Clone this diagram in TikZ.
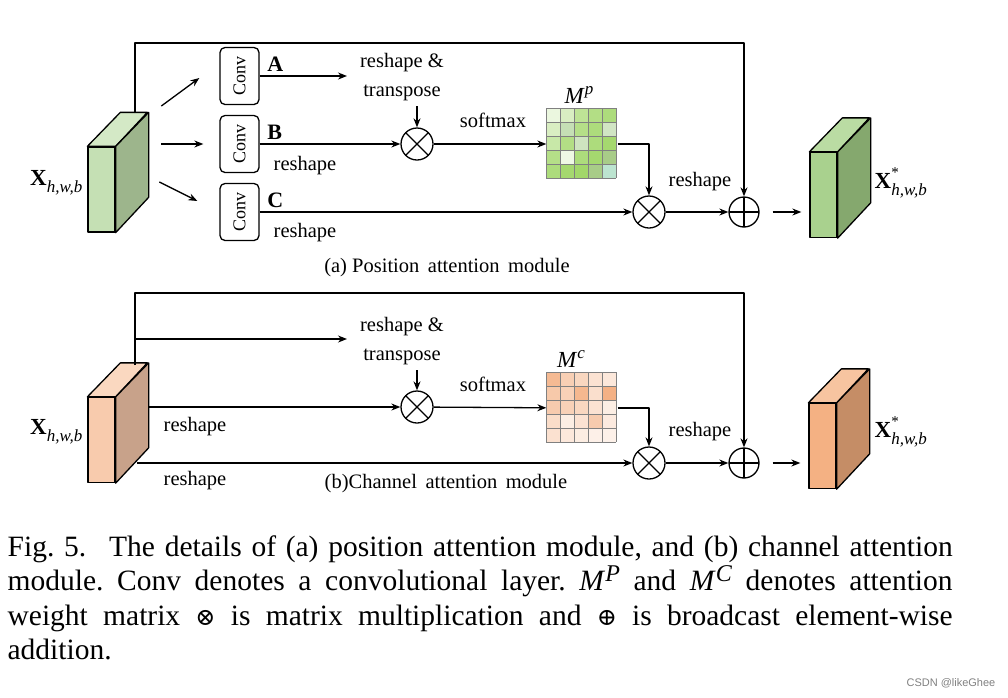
\documentclass[tikz,border=0pt]{standalone}
\usepackage{fontspec}
\setmainfont{Liberation Serif}
\newfontfamily\wmfont{Liberation Sans}
\newfontfamily\opfont{DejaVu Serif}
\usetikzlibrary{arrows.meta,calc}

\definecolor{ga1}{RGB}{197,224,180}
\definecolor{ga2}{RGB}{212,233,198}
\definecolor{ga3}{RGB}{157,181,140}
\definecolor{gb1}{RGB}{169,209,142}
\definecolor{gb2}{RGB}{186,220,163}
\definecolor{gb3}{RGB}{133,168,110}
\definecolor{oa1}{RGB}{248,203,173}
\definecolor{oa2}{RGB}{250,216,192}
\definecolor{oa3}{RGB}{200,162,138}
\definecolor{ob1}{RGB}{244,177,131}
\definecolor{ob2}{RGB}{247,196,160}
\definecolor{ob3}{RGB}{197,141,102}
\definecolor{gm}{RGB}{146,208,80}
\definecolor{gs}{RGB}{197,223,181}
\definecolor{gg}{RGB}{168,204,136}
\definecolor{mint}{RGB}{188,228,208}
\definecolor{om}{RGB}{238,140,75}

\newcommand\lblfont{\fontsize{20.5}{29}\selectfont}
\newcommand\subfont{\fontsize{17}{17}\selectfont}
\newcommand\xin{\fontsize{23}{23}\selectfont\textbf{X}\raisebox{-0.3em}{\subfont\textit{h,w,b}}}
\newcommand\xout{\fontsize{23}{23}\selectfont\textbf{X}\rlap{\raisebox{0.5em}{\fontsize{15}{15}\selectfont *}}\raisebox{-0.3em}{\subfont\textit{h,w,b}}}
\newcommand\opsym[1]{{\opfont\fontsize{24}{24}\selectfont #1}}

\tikzset{%
        conv box/.style={
            draw,
            rounded corners=5pt,
            minimum width=39pt,
            minimum height=57pt,
            inner sep=0pt,
            font=\fontsize{18}{18}\selectfont
        },
        op node/.style={
            draw,
            circle,
            minimum size=32pt,
            inner sep=0pt
        },
        mul node/.style={
            op node,
            path picture={\draw (path picture bounding box.north west) -- (path picture bounding box.south east)
                (path picture bounding box.south west) -- (path picture bounding box.north east);}
        },
        add node/.style={
            op node,
            minimum size=30pt,
            path picture={\draw (path picture bounding box.north) -- (path picture bounding box.south)
                (path picture bounding box.west) -- (path picture bounding box.east);}
        },
        cube front/.style={
            draw,
            minimum width=27pt,
            minimum height=85pt,
            inner sep=0pt
        },
        lbl/.style={
            font=\lblfont,
            inner sep=0pt,
            align=center
        },
        att matrix/.style={
            minimum size=70pt,
            inner sep=0pt
        },
    }

\begin{document}
\begin{tikzpicture}[x=1pt, y=-1pt, line width=1.3pt, line join=round, >={Stealth[length=9pt,width=7pt]}]
        \useasboundingbox (0,0) rectangle (1008,697);

        \foreach \n/\x/\y/\cf/\ct/\cs in {xa/101.5/189.5/ga1/ga2/ga3, ya/823.5/195/gb1/gb2/gb3, xb/101.5/440/oa1/oa2/oa3, yb/822.5/446/ob1/ob2/ob3}
        {
            \node [cube front, fill=\cf] (\n) at (\x,\y) {};
            \draw [fill=\ct] (\n.north west) -- ++(33,-34) -- ++(27,0) -- (\n.north east) -- cycle;
            \draw [fill=\cs] (\n.north east) -- ++(33,-34) -- ++(0,85) -- (\n.south east) -- cycle;
        }

        \foreach \y/\t in {183/a, 432/b}
        {
            \node [lbl, anchor=east] (xlbl-\t) at (83,\y) {\xin};
            \node [lbl, anchor=west] (ylbl-\t) at (874,\y) {\xout};
        }

        % (a) position attention module
        \foreach \l/\y in {A/76, B/144, C/212}
        \node [conv box] (conv\l) at (239.5,\y) {\rotatebox{90}{Conv}};

        \foreach \l in {A, B, C}
        \node [lbl, font=\fontsize{22}{22}\selectfont\bfseries, anchor=base west] (lbl\l) at ($(conv\l.east)+(7,-5)$) {\l};

        \foreach \l/\ax/\ay/\bx/\by in {A/-58/30/-20/2, B/-58/0/-16/0, C/-60/-30/-22/-11}
        \draw [->] ($(conv\l.west)+(\ax,\ay)$) -- ($(conv\l.west)+(\bx,\by)$);

        \node [mul node] (mula) at (417,144) {};
        \node [mul node] (mulb) at (649,212) {};
        \node [add node] (adda) at (744,212) {};
        \node [att matrix] (mp) at (582,144) {};

        \coordinate (ta) at (347,76);
        \coordinate (skipa) at (135,113);
        \coordinate (topa) at (744,43);

        \node [lbl] (rta) at (402,77) {reshape \&\\transpose};
        \node [lbl] (rsb) at (305,166) {reshape};
        \node [lbl] (rsc) at (305,233) {reshape};
        \node [lbl] (sma) at (493,120) {softmax};
        \node [lbl] (rsd) at (700,182) {reshape};
        \node [lbl, anchor=south] (mpl) at ($(mp.north)+(-3,-4)$) {\fontsize{23}{23}\selectfont\textit{M}\raisebox{0.42em}{\subfont\textit{p}}};
        \node [lbl] (capa) at (447,268) {(a) Position\, attention\, module};

        \draw [->] (convA.east) -- (ta);
        \draw [->] (convB.east) -- (mula);
        \draw [->] (convC.east) -- (mulb);
        \draw [->, shorten <=5pt] (rta.south -| mula) -- (mula);
        \draw [->] (mula) -- (mp);
        \draw [->] (mp.east) -| (mulb);
        \draw [->] (mulb) -- (adda);
        \draw [->] (skipa) |- (topa) -- (adda);
        \draw [->, shorten <=13pt, shorten >=8pt] (adda) -- (adda -| ya.west);

        % (b) channel attention module
        \node [mul node] (mulc) at (417,407) {};
        \node [mul node] (muld) at (649,463) {};
        \node [add node] (addb) at (744,463) {};
        \node [att matrix] (mc) at (582,408) {};

        \coordinate (skipb) at (135,365);
        \coordinate (topb) at (744,293);
        \coordinate (brb) at (135,339);
        \coordinate (tb) at (347,339);
        \coordinate (sb1) at (148,407);
        \coordinate (sb2) at (137,463);

        \node [lbl] (rtb) at (402,341) {reshape \&\\transpose};
        \node [lbl] (rse) at (195,427) {reshape};
        \node [lbl] (rsf) at (195,481) {reshape};
        \node [lbl] (smb) at (493,384) {softmax};
        \node [lbl] (rsg) at (700,432) {reshape};
        \node [lbl, anchor=south] (mcl) at ($(mc.north)+(-11,-4)$) {\fontsize{23}{23}\selectfont\textit{M}\raisebox{0.42em}{\subfont\textit{c}}};
        \node [lbl] (capb) at (446,484) {(b)Channel\, attention\, module};

        \draw [->] (brb) -- (tb);
        \draw [->, shorten <=5pt] (rtb.south -| mulc) -- (mulc);
        \draw [->] (sb1) -- (mulc);
        \draw [->] (mulc) -- (mc);
        \draw [->] (mc.east) -| (muld);
        \draw [->] (sb2) -- (muld);
        \draw [->] (muld) -- (addb);
        \draw [->] (skipb) |- (topb) -- (addb);
        \draw [->, shorten <=13pt, shorten >=8pt] (addb) -- (addb -| yb.west);

        % attention matrices
        \foreach \cl [count=\i from 0] in {gm!18, gm!35, gm!60, gm!70, gm!75,
                gm!35, gs, gm!68, gm!75, gs!80,
                gm!50, gm!70, gs!85, gm!75, gm!82,
                gm!68, gm!15, gm!75, gm!82, gg,
                gm!75, gm!82, gm!85, gg, mint}
        {
            \pgfmathtruncatemacro\cc{mod(\i,5)}
            \pgfmathtruncatemacro\rr{div(\i,5)}
            \fill [\cl] ($(mp.north west)+(\cc*14,\rr*14)$) rectangle +(14,14);
        }
        \foreach \cl [count=\i from 0] in {om!60, om!42, om!35, om!25, om!20,
                om!47, om!40, om!62, om!28, om!68,
                om!45, om!40, om!35, om!25, om!15,
                om!30, om!15, om!25, om!45, om!18,
                om!26, om!20, om!16, om!13, om!12}
        {
            \pgfmathtruncatemacro\cc{mod(\i,5)}
            \pgfmathtruncatemacro\rr{div(\i,5)}
            \fill [\cl] ($(mc.north west)+(\cc*14,\rr*14)$) rectangle +(14,14);
        }
        \foreach \m in {mp, mc}
        \foreach \k in {0,...,5}
        {
            \draw [gray, line width=1.2pt] ($(\m.north west)+(\k*14,0)$) -- ++(0,70);
            \draw [gray, line width=1.2pt] ($(\m.north west)+(0,\k*14)$) -- ++(70,0);
        }

        % caption
        \node [anchor=north west, text width=945pt, inner sep=0pt, align=justify, font=\fontsize{29.5}{34.3}\selectfont\frenchspacing] (cap) at (7,535)
            {Fig. 5.\hspace{0.45em} The details of (a) position attention module, and (b) channel attention\linebreak
             module. Conv denotes a convolutional layer. \textit{M}\raisebox{0.3em}{\fontsize{24}{24}\selectfont\textit{P}} and \textit{M}\raisebox{0.3em}{\fontsize{24}{24}\selectfont\textit{C}} denotes attention\linebreak
             weight matrix \opsym{⊗} is matrix multiplication and \opsym{⊕} is broadcast element-wise\linebreak
             addition.};
        \node [anchor=east, inner sep=0pt, text=gray, font=\wmfont\fontsize{11}{11}\selectfont] (wm) at (996,683) {CSDN @likeGhee};
    \end{tikzpicture}
\end{document}
